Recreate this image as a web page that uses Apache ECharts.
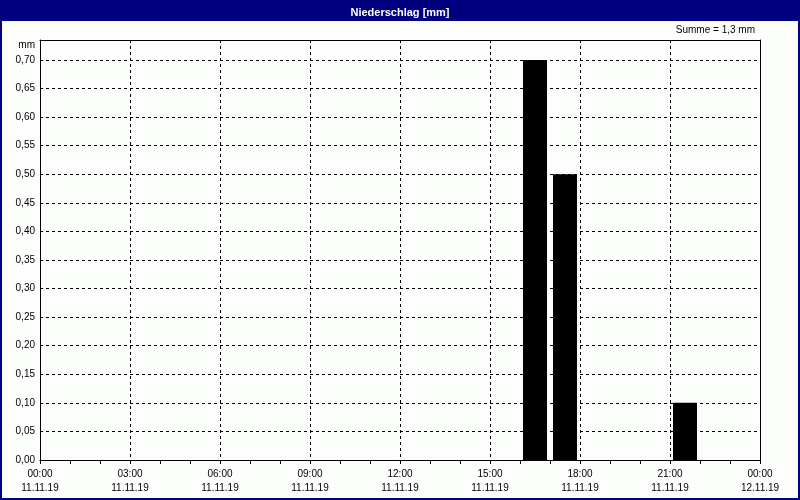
<!DOCTYPE html>
<html>
<head>
<meta charset="utf-8">
<script src="https://cdn.jsdelivr.net/npm/echarts@6/dist/echarts.min.js"></script>
<style>
html,body{margin:0;padding:0;background:#fcfefc;}
#chart{width:800px;height:500px;}
</style>
</head>
<body>
<div id="chart"></div>
<script>
// Hourly precipitation (mm), hour intervals starting at 00:00 on 11.11.19
var hours = [0,1,2,3,4,5,6,7,8,9,10,11,12,13,14,15,16,17,18,19,20,21,22,23];
var precip = [0,0,0,0,0,0,0,0,0,0,0,0,0,0,0,0,0.7,0.5,0,0,0,0.1,0,0];
var xTickTimes = ['00:00','03:00','06:00','09:00','12:00','15:00','18:00','21:00','00:00'];
var xTickDates = ['11.11.19','11.11.19','11.11.19','11.11.19','11.11.19','11.11.19','11.11.19','11.11.19','12.11.19'];
var titleText = 'Niederschlag [mm]';
var unitText = 'mm';

var FONT = 'Liberation Sans';
var sum = precip.reduce(function(a,b){return a+b;},0);
var sumText = 'Summe = ' + sum.toFixed(1).replace('.', ',') + ' mm';

var barData = [];
for (var i = 0; i < hours.length; i++) {
  if (precip[i] > 0) barData.push([hours[i] + 0.5, precip[i]]);
}

var frameAxisX = {
  type: 'value', position: 'top', min: 0, max: 24, interval: 3,
  axisLine: {show:true, onZero:false, lineStyle:{color:'#000', width:1}},
  axisTick: {show:false}, axisLabel: {show:false}, splitLine: {show:false}
};
var frameAxisY = {
  type: 'value', position: 'right', min: 0, max: 0.735, interval: 0.05,
  axisLine: {show:true, onZero:false, lineStyle:{color:'#000', width:1}},
  axisTick: {show:false}, axisLabel: {show:false}, splitLine: {show:false}
};

var chart = echarts.init(document.getElementById('chart'), null, {renderer:'canvas'});
chart.setOption({
  backgroundColor: '#fcfefc',
  animation: false,
  title: {
    text: titleText,
    left: 'center',
    top: 2,
    textStyle: {color:'#ffffff', fontFamily: FONT, fontSize: 11, fontWeight:'bold'}
  },
  graphic: [
    {type:'rect', z:-1, shape:{x:0,y:0,width:800,height:21}, style:{fill:'#000080'}},
    {type:'rect', z:100, shape:{x:1,y:1,width:798,height:498}, style:{fill:null, stroke:'#000080', lineWidth:2}},
    {type:'text', right: 45, top: 25, style:{text: sumText, fill:'#000', font: '10px "Liberation Sans"'}},
    {type:'text', right: 765, top: 40, style:{text: unitText, fill:'#000', font: '10px "Liberation Sans"'}}
  ],
  grid: {
    left: 40, right: 40, top: 40, bottom: 40, show: false
  },
  xAxis: [{
    type: 'value',
    min: 0, max: 24, interval: 3,
    axisLine: {show:true, onZero:false, lineStyle:{color:'#000', width:1}},
    axisTick: {show:true, length:4, lineStyle:{color:'#000'}},
    minorTick: {show:true, splitNumber:3, length:4, lineStyle:{color:'#000'}},
    splitLine: {show:true, lineStyle:{color:'#000', type:[3,3], width:1}},
    axisLabel: {
      show: true, margin: 7, color:'#000', fontFamily: FONT, fontSize: 10, lineHeight: 14,
      showMinLabel: true, showMaxLabel: true,
      formatter: function(v){ var k = Math.round(v/3); return xTickTimes[k] + '\n' + xTickDates[k]; }
    }
  }, frameAxisX],
  yAxis: [{
    type: 'value',
    min: 0, max: 0.735, interval: 0.05,
    axisLine: {show:true, onZero:false, lineStyle:{color:'#000', width:1}},
    axisTick: {show:false},
    splitLine: {show:true, lineStyle:{color:'#000', type:[3,3], width:1}},
    axisLabel: {
      margin: 5, color:'#000', fontFamily: FONT, fontSize: 10,
      showMaxLabel: false,
      formatter: function(v){ return v.toFixed(2).replace('.', ','); }
    }
  }, frameAxisY],
  series: [{
    type: 'bar',
    xAxisIndex: 0, yAxisIndex: 0,
    data: barData,
    barWidth: 24,
    itemStyle: {color:'#000000'},
    z: 3
  }]
});
</script>
</body>
</html>
